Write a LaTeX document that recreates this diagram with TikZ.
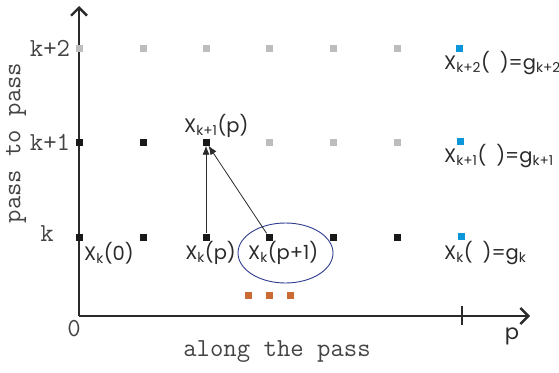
\documentclass[tikz,border=0pt]{standalone}
\usepackage{fontspec}
\setmainfont{Poppins}
\usetikzlibrary{arrows.meta,shapes.geometric}
\definecolor{txt}{HTML}{2A2A2A}
\definecolor{mtxt}{HTML}{444444}
\definecolor{lgray}{HTML}{BDBDBD}
\definecolor{sblue}{HTML}{0A96D8}
\definecolor{sorange}{HTML}{CC6A35}
\definecolor{eblue}{HTML}{2E3C8F}
\tikzset{
  sq/.style={fill=#1, minimum size=7pt, inner sep=0pt, draw=none},
  sq/.default=black!90,
  lab/.style={text=txt, font=\fontsize{19.5}{21}\selectfont, inner sep=0pt},
  mono/.style={text=mtxt, font=\ttfamily\fontsize{26}{28}\selectfont, inner sep=0pt},
  axis/.style={line width=2.6pt, draw=txt, -{Straight Barb[length=8pt,width=16pt,line width=2.4pt]}},
  conn/.style={line width=0.8pt, draw=txt, -{Latex[length=9pt,width=7pt]}}
}
\begin{document}
\begin{tikzpicture}[x=1pt,y=-1pt]
\useasboundingbox (0,0) rectangle (559,372);
% axes
\coordinate (O) at (79,316);
\coordinate (ytop) at (79,6);
\coordinate (xend) at (530,316);
\draw[axis] (O) -- (ytop);
\draw[axis] (O) -- (xend);
\draw[line width=2.6pt, draw=txt] (462,306) -- (462,325);
% row k
\node[sq] (k0) at (79,237) {};
\node[sq] (k1) at (143,237) {};
\node[sq] (k2) at (206,237) {};
\node[sq] (k3) at (269,237) {};
\node[sq] (k4) at (333,237) {};
\node[sq] (k5) at (397,237) {};
\node[sq=sblue] (kb) at (461,236) {};
% row k+1
\node[sq] (m0) at (79,142) {};
\node[sq] (m1) at (143,142) {};
\node[sq] (m2) at (206,142) {};
\node[sq=lgray] (m3) at (269,142) {};
\node[sq=lgray] (m4) at (333,142) {};
\node[sq=lgray] (m5) at (397,142) {};
\node[sq=sblue] (mb) at (460,141) {};
% row k+2
\node[sq=lgray] (n0) at (79,48) {};
\node[sq=lgray] (n1) at (143,48) {};
\node[sq=lgray] (n2) at (206,48) {};
\node[sq=lgray] (n3) at (269,48) {};
\node[sq=lgray] (n4) at (333,48) {};
\node[sq=lgray] (n5) at (397,48) {};
\node[sq=sblue] (nb) at (459,48) {};
% orange dots
\node[sq=sorange] (o1) at (248,295) {};
\node[sq=sorange] (o2) at (269,295) {};
\node[sq=sorange] (o3) at (290,295) {};
% ellipse
\node[draw=eblue, line width=0.9pt, ellipse, minimum width=95pt, minimum height=60pt, inner sep=0pt] (ell) at (285.5,253) {};
% arrows
\draw[conn] (k2) -- (m2);
\draw[conn] (k3) -- (m2);
% labels
\node[lab, anchor=west] (l0) at (84,253) {X\textsubscript{k}(0)};
\node[lab, anchor=east] (lp) at (236,253) {X\textsubscript{k}(p)};
\node[lab, anchor=west] (lp1) at (248,253) {X\textsubscript{k}(p+1)};
\node[lab, anchor=west] (lm) at (184,126) {X\textsubscript{k+1}(p)};
\node[lab, anchor=west] (r2) at (444,63) {X\textsubscript{k+2}(\hspace{10pt})=g\textsubscript{k+2}};
\node[lab, anchor=west] (r1) at (444,156) {X\textsubscript{k+1}(\hspace{10pt})=g\textsubscript{k+1}};
\node[lab, anchor=west] (r0) at (444,253) {X\textsubscript{k}(\hspace{10pt})=g\textsubscript{k}};
% axis labels
\node[mono] (tk) at (47,234) {k};
\node[mono] (tk1) at (50,142) {k+1};
\node[mono] (tk2) at (50,48) {k+2};
\node[mono] (t0) at (74,329) {0};
\node[lab, font=\fontsize{21}{23}\selectfont] (tp) at (512,336) {p};
\node[mono] (tx) at (277,352) {along the pass};
\node[mono, rotate=90] (ty) at (16,143) {pass to pass};
\end{tikzpicture}
\end{document}
